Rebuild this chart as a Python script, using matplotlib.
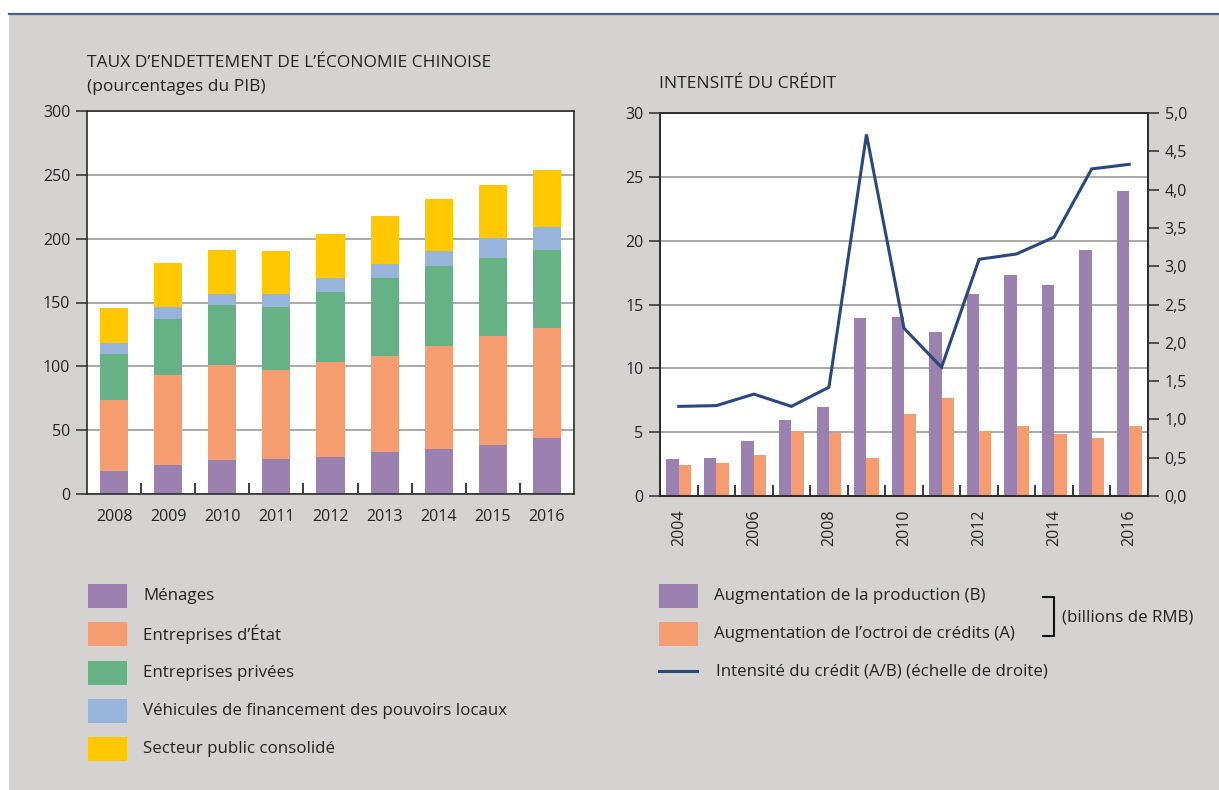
import matplotlib
matplotlib.use("Agg")
import matplotlib.pyplot as plt
import numpy as np
from matplotlib.patches import Rectangle
from matplotlib.lines import Line2D

plt.rcParams['font.family'] = ['Open Sans', 'DejaVu Sans']

# ---------------- data ----------------
years_left = ['2008', '2009', '2010', '2011', '2012', '2013', '2014', '2015', '2016']
menages = [17.7, 22.9, 26.8, 27.6, 29.2, 33.1, 35.4, 38.6, 44.0]
entreprises_etat = [56.1, 70.4, 74.3, 69.9, 74.3, 75.1, 80.6, 85.2, 86.0]
entreprises_privees = [35.9, 43.8, 46.9, 49.0, 54.7, 60.9, 62.5, 61.0, 61.0]
vehicules_financement = [8.3, 9.4, 8.9, 10.4, 10.9, 11.0, 11.8, 15.9, 18.0]
secteur_public = [27.7, 34.4, 34.1, 33.4, 34.4, 37.5, 40.6, 41.2, 44.6]
left_labels = ['Ménages', 'Entreprises d\u2019État', 'Entreprises privées',
               'Véhicules de financement des pouvoirs locaux', 'Secteur public consolidé']

years_right = ['2004', '2005', '2006', '2007', '2008', '2009', '2010',
               '2011', '2012', '2013', '2014', '2015', '2016']
production_B = [2.9, 3.0, 4.3, 5.95, 6.95, 13.95, 14.0, 12.85, 15.8, 17.3, 16.5, 19.25, 23.9]
credits_A = [2.43, 2.6, 3.2, 5.1, 4.95, 3.0, 6.43, 7.68, 5.1, 5.48, 4.86, 4.55, 5.48]
intensite = [1.17, 1.18, 1.33, 1.17, 1.42, 4.72, 2.19, 1.68, 3.09, 3.16, 3.38, 4.27, 4.33]
right_labels = ['Augmentation de la production (B)',
                'Augmentation de l\u2019octroi de crédits (A)',
                'Intensité du crédit (A/B) (échelle de droite)']

# ---------------- style ----------------
C_PURPLE = '#9b81b0'
C_ORANGE = '#f59d70'
C_GREEN = '#66b286'
C_BLUE = '#97b5db'
C_YELLOW = '#ffc800'
C_LINE = '#2a487e'
BG = '#d4d3d1'
GRID = '#a9a9a9'
SPINE = '#2b2b2b'
TXT = '#222222'

W, H = 1219, 790
fig = plt.figure(figsize=(W / 100, H / 100), dpi=100, facecolor='white')


def fx(x):
    return x / W


def fy(y):
    return 1 - y / H


# background panel and top rule
fig.patches.append(Rectangle((fx(9), 0), 1 - fx(9), fy(15), transform=fig.transFigure,
                             facecolor=BG, edgecolor='none', zorder=-10))
fig.lines.append(Line2D([fx(9), 1], [fy(14), fy(14)], transform=fig.transFigure,
                        color='#4a5f8a', lw=1.6))

FS = 11.5
FT = 12.5
FL = 12.2


def style_axes(ax):
    ax.set_facecolor('white')
    for s in ax.spines.values():
        s.set_color(SPINE)
        s.set_linewidth(1.2)
    ax.set_axisbelow(True)
    ax.yaxis.grid(True, color=GRID, lw=1.4)
    ax.tick_params(axis='y', direction='out', length=8, width=1.1, color=SPINE,
                   labelsize=FS, labelcolor=TXT, pad=4)
    ax.tick_params(axis='x', which='major', length=0, labelsize=FS, labelcolor=TXT)
    ax.tick_params(axis='x', which='minor', direction='in', length=8, width=1.3, color=SPINE)


# ---------------- left chart ----------------
axL = fig.add_axes([fx(87), fy(494), fx(574 - 87), (494 - 111) / H])
style_axes(axL)
xl = np.arange(len(years_left))
bw = 0.52
bottom = np.zeros(len(years_left))
series_left = [menages, entreprises_etat, entreprises_privees, vehicules_financement, secteur_public]
colors_left = [C_PURPLE, C_ORANGE, C_GREEN, C_BLUE, C_YELLOW]
for vals, col in zip(series_left, colors_left):
    axL.bar(xl, vals, bw, bottom=bottom, color=col, edgecolor='none', zorder=2)
    bottom = bottom + np.array(vals)
axL.set_xlim(-0.5, len(years_left) - 0.5)
axL.set_ylim(0, 300)
axL.set_yticks(np.arange(0, 301, 50))
axL.set_xticks(xl)
axL.set_xticklabels(years_left)
axL.set_xticks(np.arange(0.5, len(years_left) - 0.5, 1), minor=True)
axL.tick_params(axis='x', which='major', pad=11)

fig.text(fx(87), fy(63), 'TAUX D\u2019ENDETTEMENT DE L\u2019ÉCONOMIE CHINOISE', fontsize=FT,
         color=TXT, va='center', ha='left')
fig.text(fx(87), fy(87), '(pourcentages du PIB)', fontsize=FT, color=TXT, va='center', ha='left')

# ---------------- right chart ----------------
axR = fig.add_axes([fx(660), fy(496), fx(1148 - 660), (496 - 113) / H])
style_axes(axR)
xr = np.arange(len(years_right))
bw2 = 0.33
axR.bar(xr - bw2 / 2, production_B, bw2, color=C_PURPLE, edgecolor='none', zorder=2)
axR.bar(xr + bw2 / 2, credits_A, bw2, color=C_ORANGE, edgecolor='none', zorder=2)
axR.set_xlim(-0.5, len(years_right) - 0.5)
axR.set_ylim(0, 30)
axR.set_yticks(np.arange(0, 31, 5))
axR.set_xticks(xr[::2])
axR.set_xticklabels(years_right[::2], rotation=90)
axR.set_xticks(np.arange(0.5, len(years_right) - 0.5, 1), minor=True)
axR.tick_params(axis='x', which='major', pad=10)

ax2 = axR.twinx()
ax2.plot(xr, intensite, color=C_LINE, lw=2.2, zorder=5, solid_joinstyle='miter')
ax2.set_ylim(0, 5)
ax2.set_yticks(np.arange(0, 5.01, 0.5))
ax2.set_yticklabels([f'{v:.1f}'.replace('.', ',') for v in np.arange(0, 5.01, 0.5)])
ax2.tick_params(axis='y', direction='out', length=8, width=1.1, color=SPINE,
                labelsize=FS, labelcolor=TXT, pad=4)
for s in ax2.spines.values():
    s.set_color(SPINE)
    s.set_linewidth(1.2)

fig.text(fx(659), fy(84), 'INTENSITÉ DU CRÉDIT', fontsize=FT, color=TXT, va='center', ha='left')

# ---------------- legends ----------------
rows_left = [596, 634, 673, 711, 749]
for lab, col, yc in zip(left_labels, colors_left, rows_left):
    fig.patches.append(Rectangle((fx(88), fy(yc + 12)), fx(39), 24 / H, transform=fig.transFigure,
                                 facecolor=col, edgecolor='none'))
    fig.text(fx(143), fy(yc), lab, fontsize=FL, color=TXT, va='center', ha='left')

rows_right = [596, 634]
for lab, col, yc in zip(right_labels[:2], [C_PURPLE, C_ORANGE], rows_right):
    fig.patches.append(Rectangle((fx(659), fy(yc + 12)), fx(39), 24 / H, transform=fig.transFigure,
                                 facecolor=col, edgecolor='none'))
    fig.text(fx(714), fy(yc), lab, fontsize=FL, color=TXT, va='center', ha='left')
fig.lines.append(Line2D([fx(659), fx(697)], [fy(671), fy(671)], transform=fig.transFigure,
                        color=C_LINE, lw=2.2))
fig.text(fx(716), fy(671), right_labels[2], fontsize=FL, color=TXT, va='center', ha='left')

# bracket
fig.lines.append(Line2D([fx(1043), fx(1054), fx(1054), fx(1043)],
                        [fy(597), fy(597), fy(636), fy(636)], transform=fig.transFigure,
                        color='#111111', lw=1.5))
fig.text(fx(1062), fy(617), '(billions de RMB)', fontsize=FL, color=TXT, va='center', ha='left')

fig.savefig('out.png', dpi=100, facecolor='white')
